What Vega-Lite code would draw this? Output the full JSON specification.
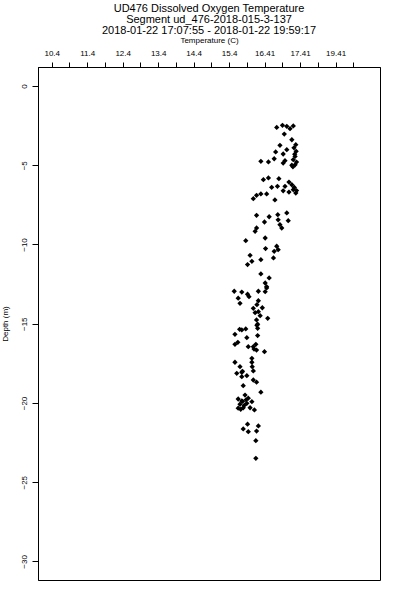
{
  "$schema": "https://vega.github.io/schema/vega-lite/v6.json",
  "autosize": {"type": "none"},
  "width": 342,
  "height": 513,
  "padding": {"left": 38, "top": 67, "right": 20, "bottom": 20},
  "background": "white",
  "config": {
    "view": {"stroke": "black", "strokeWidth": 1},
    "font": "Liberation Sans",
    "axis": {"grid": false, "domainColor": "black", "tickColor": "black", "labelColor": "black", "titleColor": "black", "labelFont": "Liberation Sans", "titleFont": "Liberation Sans", "titleFontWeight": "normal"}
  },
  "title": {
    "text": ["UD476 Dissolved Oxygen Temperature", "Segment ud_476-2018-015-3-137", "2018-01-22 17:07:55 - 2018-01-22 19:59:17"],
    "fontSize": 11,
    "fontWeight": "normal",
    "font": "Liberation Sans",
    "color": "black",
    "anchor": "middle",
    "lineHeight": 11,
    "offset": 0
  },
  "data": {"values": [
    {"t":16.65,"d":-2.61},{"t":16.81,"d":-2.48},{"t":16.93,"d":-2.54},{"t":17.02,"d":-2.69},{"t":17.11,"d":-2.52},
    {"t":16.86,"d":-3.03},{"t":17.07,"d":-3.39},{"t":17.18,"d":-3.70},{"t":16.74,"d":-3.74},{"t":16.93,"d":-4.02},
    {"t":16.62,"d":-4.16},{"t":16.83,"d":-4.29},{"t":17.19,"d":-4.12},{"t":17.16,"d":-4.44},{"t":16.58,"d":-4.59},
    {"t":16.88,"d":-4.71},{"t":17.11,"d":-4.65},{"t":17.16,"d":-4.97},{"t":16.21,"d":-4.75},{"t":16.42,"d":-4.79},
    {"t":17.07,"d":-5.00},{"t":16.83,"d":-4.86},{"t":17.13,"d":-3.90},{"t":17.15,"d":-4.30},{"t":17.20,"d":-4.80},{"t":17.10,"d":-5.10},
    {"t":16.28,"d":-5.91},{"t":16.42,"d":-5.80},{"t":16.71,"d":-5.85},{"t":16.99,"d":-6.06},{"t":16.51,"d":-6.39},
    {"t":16.67,"d":-6.33},{"t":16.88,"d":-6.33},{"t":17.07,"d":-6.23},{"t":17.11,"d":-6.54},{"t":16.99,"d":-6.69},
    {"t":17.18,"d":-6.75},{"t":16.83,"d":-6.61},{"t":17.14,"d":-6.40},{"t":17.20,"d":-6.60},{"t":16.09,"d":-6.90},{"t":16.21,"d":-6.81},
    {"t":16.37,"d":-6.81},{"t":16.60,"d":-7.19},{"t":16.00,"d":-7.11},
    {"t":16.09,"d":-8.16},{"t":16.44,"d":-8.25},{"t":16.68,"d":-8.12},{"t":16.93,"d":-8.01},{"t":16.31,"d":-8.58},
    {"t":16.69,"d":-8.44},{"t":16.74,"d":-8.75},{"t":16.97,"d":-8.50},{"t":16.79,"d":-8.96},{"t":16.09,"d":-8.96},
    {"t":16.05,"d":-9.17},{"t":15.79,"d":-9.76},{"t":16.33,"d":-9.59},{"t":16.65,"d":-10.11},{"t":16.34,"d":-10.26},
    {"t":16.58,"d":-10.43},{"t":16.69,"d":-10.33},{"t":16.56,"d":-10.85},{"t":15.91,"d":-10.68},{"t":16.21,"d":-10.96},
    {"t":15.96,"d":-11.06},{"t":15.84,"d":-11.27},{"t":16.21,"d":-11.86},{"t":16.44,"d":-12.11},{"t":16.33,"d":-12.43},
    {"t":16.37,"d":-12.74},{"t":15.47,"d":-12.95},{"t":15.68,"d":-13.00},{"t":16.14,"d":-12.95},{"t":16.37,"d":-12.66},
    {"t":16.33,"d":-12.98},{"t":15.84,"d":-13.14},{"t":15.58,"d":-13.39},{"t":15.63,"d":-13.71},{"t":15.88,"d":-13.29},
    {"t":16.14,"d":-13.55},{"t":16.00,"d":-14.03},{"t":16.25,"d":-13.99},{"t":16.14,"d":-14.24},{"t":16.19,"d":-14.49},
    {"t":16.10,"d":-13.80},{"t":16.05,"d":-14.30},{"t":16.10,"d":-15.10},
    {"t":16.40,"d":-14.66},{"t":16.09,"d":-14.76},{"t":16.12,"d":-15.03},{"t":16.12,"d":-15.29},{"t":15.68,"d":-15.39},
    {"t":15.79,"d":-15.33},{"t":15.62,"d":-15.35},{"t":15.49,"d":-15.67},{"t":15.82,"d":-15.88},{"t":16.12,"d":-15.75},{"t":15.57,"d":-16.17},
    {"t":15.49,"d":-16.30},{"t":15.86,"d":-16.45},{"t":16.07,"d":-16.30},{"t":16.00,"d":-16.45},{"t":16.09,"d":-16.66},
    {"t":16.02,"d":-16.60},{"t":16.31,"d":-16.76},{"t":15.96,"d":-17.18},{"t":15.96,"d":-17.43},{"t":15.49,"d":-17.43},{"t":15.63,"d":-17.71},
    {"t":15.68,"d":-18.06},{"t":15.54,"d":-18.13},{"t":15.97,"d":-17.71},{"t":16.00,"d":-17.98},{"t":15.82,"d":-18.28},
    {"t":15.70,"d":-18.00},{"t":15.68,"d":-18.34},{"t":16.00,"d":-18.55},{"t":16.09,"d":-18.69},{"t":15.72,"d":-18.91},{"t":16.21,"d":-19.32},
    {"t":15.77,"d":-19.50},{"t":15.58,"d":-19.75},{"t":15.68,"d":-19.87},{"t":15.86,"d":-19.70},{"t":15.96,"d":-19.92},
    {"t":15.70,"d":-19.90},{"t":15.75,"d":-20.15},{"t":15.65,"d":-20.40},{"t":15.80,"d":-19.80},
    {"t":15.63,"d":-20.08},{"t":15.82,"d":-20.02},{"t":15.58,"d":-20.33},{"t":15.72,"d":-20.30},{"t":15.91,"d":-20.30},
    {"t":16.03,"d":-20.44},{"t":15.84,"d":-21.34},{"t":15.72,"d":-21.64},{"t":15.86,"d":-21.81},{"t":16.14,"d":-21.45},
    {"t":16.09,"d":-21.77},{"t":16.07,"d":-22.38},{"t":16.07,"d":-23.49}
  ]},
  "mark": {"type": "point", "shape": "diamond", "filled": true, "color": "black", "size": 28, "opacity": 1},
  "encoding": {
    "x": {
      "field": "t", "type": "quantitative",
      "scale": {"domain": [10.019, 19.519], "nice": false, "zero": false},
      "axis": {
        "orient": "top",
        "title": "Temperature (C)",
        "titleFontSize": 8,
        "titlePadding": 5,
        "values": [10.4, 10.893, 11.386, 11.878, 12.371, 12.864, 13.357, 13.85, 14.342, 14.835, 15.328, 15.821, 16.314, 16.806, 17.299, 17.792, 18.285, 18.778],
        "labelExpr": "['10.4','','11.4','','12.4','','13.4','','14.4','','15.4','','16.41','','17.41','','19.41',''][round((datum.value-10.4)/0.4928)]",
        "labelFontSize": 8,
        "labelPadding": 5,
        "tickSize": 5,
        "labelOverlap": false,
        "labelFlush": false
      }
    },
    "y": {
      "field": "d", "type": "quantitative",
      "scale": {"domain": [-31.17, 1.2], "nice": false, "zero": false},
      "axis": {
        "title": "Depth (m)",
        "titleFontSize": 8,
        "titlePadding": 11,
        "values": [0, -5, -10, -15, -20, -25, -30],
        "labelAngle": 270,
        "labelFontSize": 8,
        "labelPadding": 4,
        "tickSize": 6,
        "labelOverlap": false,
        "labelFlush": false
      }
    }
  }
}
